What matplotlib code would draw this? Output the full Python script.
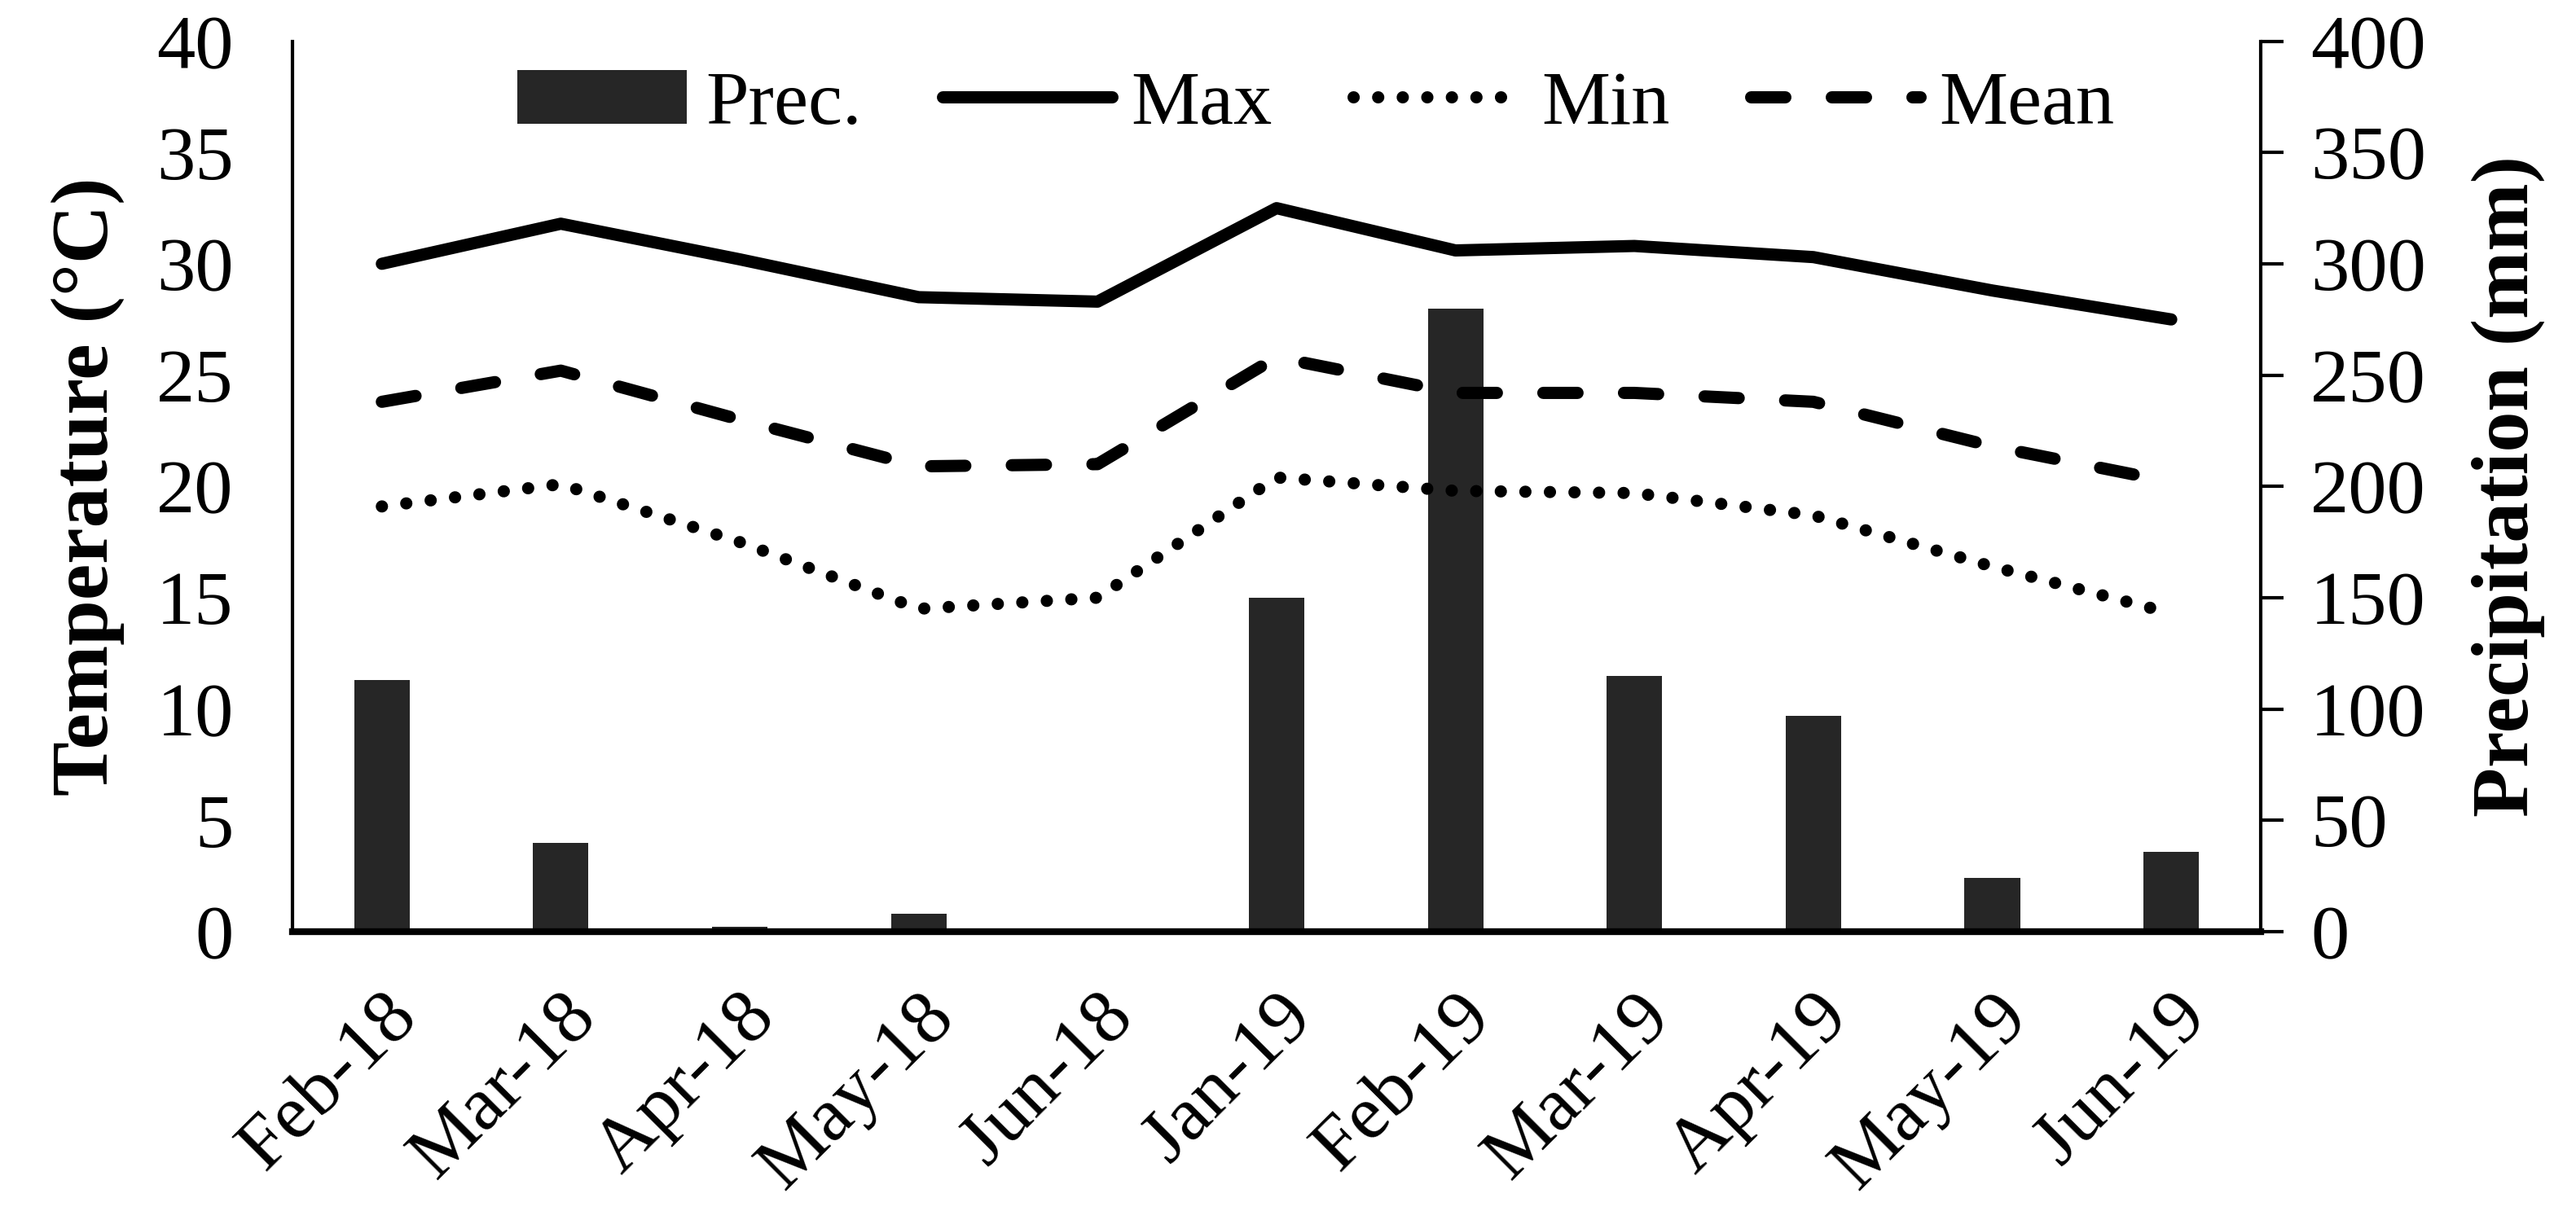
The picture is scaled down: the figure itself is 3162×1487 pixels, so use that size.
import numpy as np
from matplotlib import pyplot as plt

plt.rcParams['font.family'] = ['Liberation Serif', 'DejaVu Serif']

months = ['Feb-18', 'Mar-18', 'Apr-18', 'May-18', 'Jun-18', 'Jan-19',
          'Feb-19', 'Mar-19', 'Apr-19', 'May-19', 'Jun-19']
t_max = [30.0, 31.8, 30.2, 28.5, 28.3, 32.5, 30.6, 30.8, 30.3, 28.8, 27.5]
t_mean = [23.8, 25.2, 23.0, 20.9, 21.0, 25.8, 24.2, 24.2, 23.8, 21.8, 20.2]
t_min = [19.1, 20.1, 17.5, 14.5, 15.0, 20.4, 19.8, 19.7, 18.7, 16.4, 14.3]
prec = [113, 40, 2, 8, 0, 150, 280, 115, 97, 24, 36]

fig = plt.figure(figsize=(15.81, 7.435), dpi=200)
ax = fig.add_axes([0.1135, 0.2307, 0.7641, 0.7353])
ax2 = ax.twinx()
ax.set_zorder(ax2.get_zorder() + 1)
ax.patch.set_visible(False)

lw = 5.4
x = np.arange(len(months))
bars = ax2.bar(x, prec, width=0.31, color='#262626', label='Prec.')
l1, = ax.plot(x, t_max, color='black', lw=lw, solid_capstyle='round', label='Max')
l2, = ax.plot(x, t_min, color='black', lw=lw, linestyle=(0, (0.01, 2.0)),
              dash_capstyle='round', label='Min')
l3, = ax.plot(x, t_mean, color='black', lw=lw, linestyle=(0, (2.8, 3.8)),
              dash_capstyle='round', label='Mean')

ax.set_xlim(-0.5, len(months) - 0.5)
ax.set_ylim(0, 40)
ax2.set_ylim(0, 400)
ax.set_yticks(range(0, 41, 5))
ax2.set_yticks(range(0, 401, 50))
ax.set_xticks(x)
ax.set_xticklabels(months, rotation=45, ha='right', rotation_mode='anchor')

for a in (ax, ax2):
    a.spines['top'].set_visible(False)
ax.spines['right'].set_visible(False)
ax2.spines['left'].set_visible(False)
ax2.spines['bottom'].set_visible(False)
ax.spines['left'].set_linewidth(1.5)
ax.spines['bottom'].set_linewidth(3)
ax2.spines['right'].set_linewidth(1.5)

fs = 34
ax.tick_params(axis='y', length=0, labelsize=fs, pad=26)
ax.tick_params(axis='x', length=0, labelsize=fs, pad=22)
ax2.tick_params(axis='y', length=10, width=1.5, labelsize=fs, pad=12)

ax.set_ylabel('Temperature (°C)', fontsize=36, fontweight='bold', labelpad=14)
ax2.set_ylabel('Precipitation (mm)', fontsize=36, fontweight='bold', labelpad=20)

ax.legend([bars, l1, l2, l3], ['Prec.', 'Max', 'Min', 'Mean'], loc='upper center',
          bbox_to_anchor=(0.52, 1.045), ncol=4, frameon=False, fontsize=fs,
          handlelength=2.2, handletextpad=0.25, columnspacing=1.05)

fig.savefig('out.png', dpi=200)
